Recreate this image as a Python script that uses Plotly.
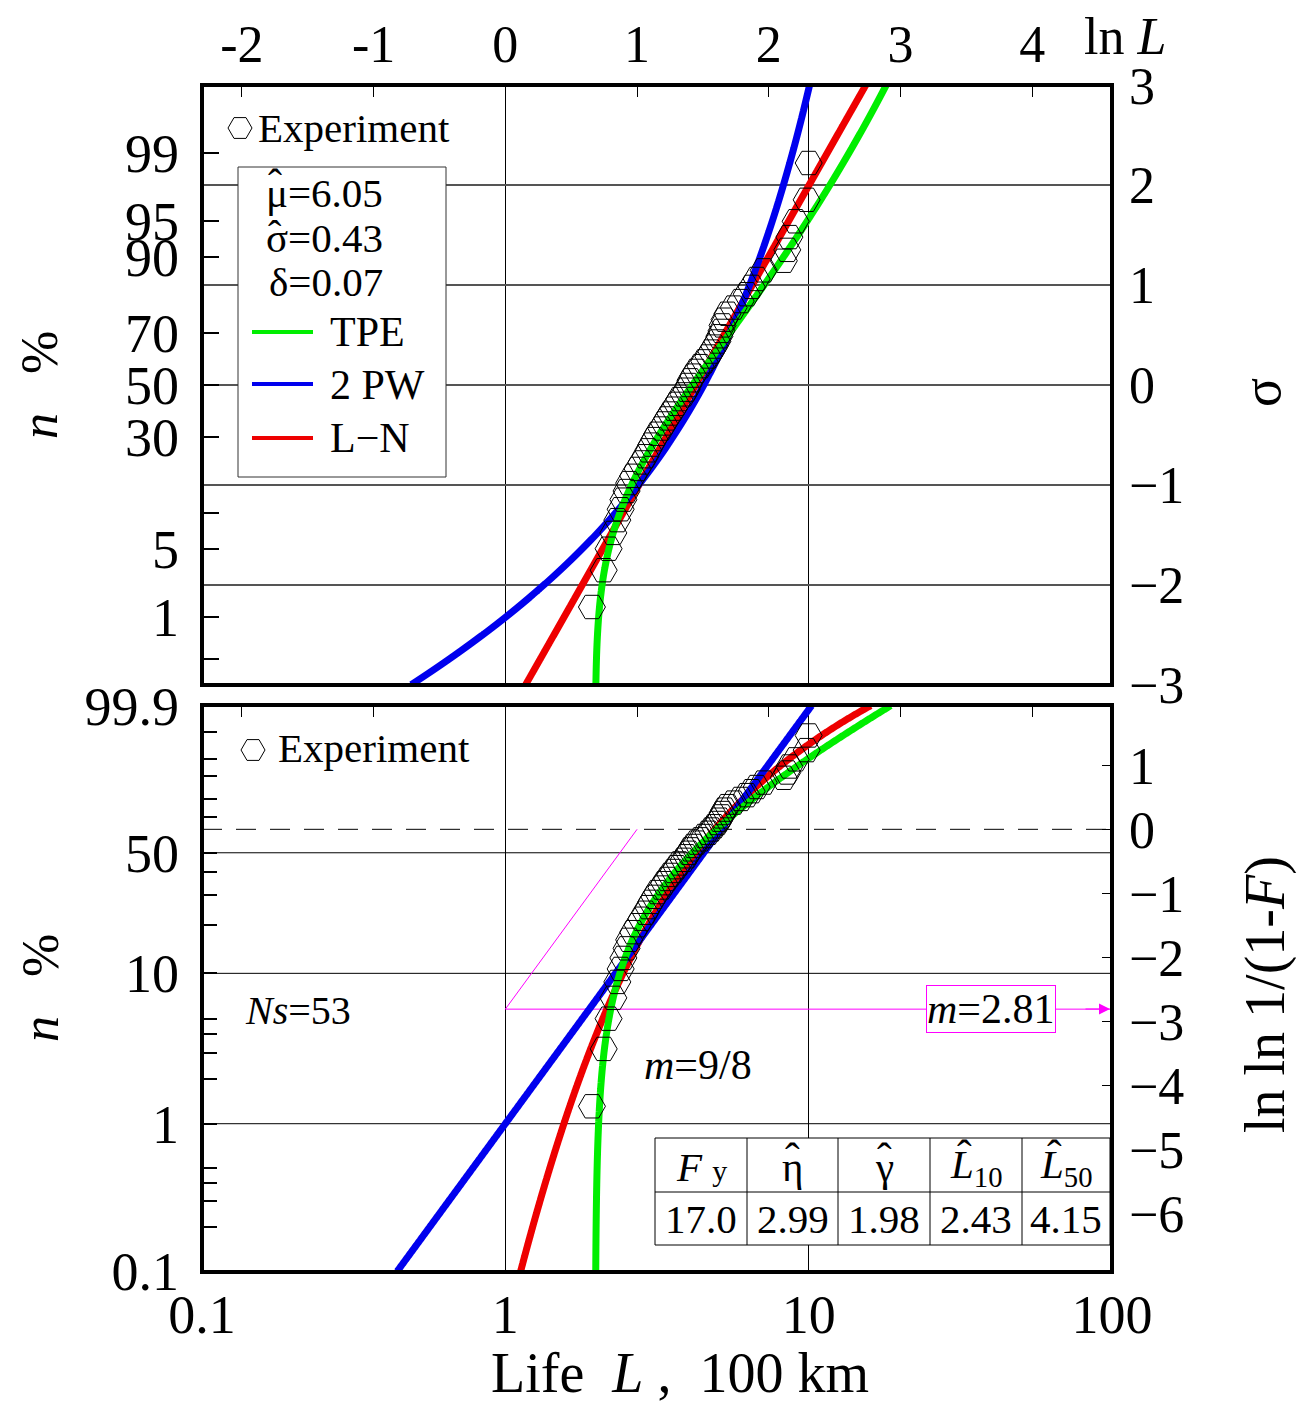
import math
from statistics import NormalDist
import numpy as np
import plotly.graph_objects as go

nd = NormalDist()

# ---------------- data ----------------
life = [1.93, 2.11, 2.19, 2.27, 2.34, 2.40, 2.45, 2.51, 2.56, 2.64,
        2.73, 2.81, 2.90, 2.96, 3.03, 3.10, 3.17, 3.27, 3.34, 3.42,
        3.50, 3.59, 3.67, 3.75, 3.87, 3.96, 4.02, 4.08, 4.17, 4.27,
        4.40, 4.53, 4.67, 4.78, 4.89, 5.00, 5.08, 5.16, 5.20, 5.28,
        5.40, 5.66, 5.97, 6.25, 6.49, 6.74, 7.11, 8.28, 8.50, 8.64,
        9.06, 9.85, 10.0]
N_S = 53

MU_HAT = 6.05      # ln(km)
SIGMA_HAT = 0.43
DELTA = 0.07
ETA_HAT = 2.99     # TPE scale (100 km)
GAMMA_HAT = 1.98   # TPE location (100 km)
M_TPE = 9 / 8
M_2PW = 2.81
ETA_2PW = 5.14
FY = 17.0
L10_HAT = 2.43
L50_HAT = 4.15

table_head = ["<i>F</i> <span style='font-size:30px'>y</span>", "η", "γ",
              "<i>L</i><sub>10</sub>", "<i>L</i><sub>50</sub>"]
table_vals = [FY, ETA_HAT, GAMMA_HAT, L10_HAT, L50_HAT]

top_pct_ticks = [99, 95, 90, 70, 50, 30, 10, 5, 1, 0.3]
top_pct_labels = ["99", "95", "90", "70", "50", "30", "", "5", "1", ""]
bot_pct_ticks = [99.9, 99, 95, 90, 80, 70, 50, 40, 30, 20, 10, 5, 4, 3, 2, 1, 0.5, 0.4, 0.3, 0.2, 0.1]
bot_pct_labels = ["99.9", "", "", "", "", "", "50", "", "", "", "10", "", "", "", "", "1", "", "", "", "", "0.1"]
sigma_ticks = [-3, -2, -1, 0, 1, 2, 3]
wb_ticks = [-6, -5, -4, -3, -2, -1, 0, 1]
lnL_ticks = [-2, -1, 0, 1, 2, 3, 4]
x_ticks = [0.1, 1, 10, 100]
x_labels = ["0.1", "1", "10", "100"]

FONT = "Liberation Serif"

# ---------------- transforms ----------------
def to_sigma(p):
    return nd.inv_cdf(p / 100.0)

def to_wb(p):
    return math.log(-math.log(1 - p / 100.0))

ranks = [(i - 0.3) / (N_S + 0.4) for i in range(1, N_S + 1)]
pt_sig = [nd.inv_cdf(f) for f in ranks]
pt_wb = [math.log(-math.log(1 - f)) for f in ranks]

# fitted model curves (from the printed parameters)
s_grid = np.linspace(-3.0, 3.0, 1201)
F_s = np.array([nd.cdf(s) for s in s_grid])
tpe_top = GAMMA_HAT + ETA_HAT * (-np.log(1 - F_s)) ** (1 / M_TPE)
pw_top = ETA_2PW * (-np.log(1 - F_s)) ** (1 / M_2PW)
ln_top = np.exp(MU_HAT - math.log(100) + SIGMA_HAT * s_grid)

WB_LO, WB_HI = to_wb(0.1), to_wb(99.9)
w_grid = np.linspace(WB_LO, WB_HI, 1201)
tpe_bot = GAMMA_HAT + ETA_HAT * np.exp(w_grid / M_TPE)
pw_bot = ETA_2PW * np.exp(w_grid / M_2PW)
F_w = 1 - np.exp(-np.exp(w_grid))
ln_bot = np.exp(MU_HAT - math.log(100) + SIGMA_HAT * np.array([nd.inv_cdf(f) for f in F_w]))

# ---------------- layout geometry ----------------
W, H = 1301, 1407
ML, MR, MT, MB = 202, 1301 - 1112, 85, 1407 - 1272
PW_, PH_ = W - ML - MR, H - MT - MB

def px(x):
    return (x - ML) / PW_

def py(y):
    return (H - MB - y) / PH_

top_dom = [py(685), 1.0]
bot_dom = [0.0, py(705)]

GREEN, BLUE, RED, MAG = "#00EE00", "#0000EE", "#EE0000", "#FF00FF"

fig = go.Figure()

def curve(xs, ys, col, xa, ya):
    fig.add_trace(go.Scatter(x=xs, y=ys, mode="lines", line=dict(color=col, width=7, simplify=False),
                             xaxis=xa, yaxis=ya, showlegend=False, hoverinfo="skip"))

# top panel curves
for xs, col in [(ln_top, RED), (pw_top, BLUE), (tpe_top, GREEN)]:
    curve(xs, s_grid, col, "x", "y")
fig.add_trace(go.Scatter(x=life, y=pt_sig, mode="markers",
                         marker=dict(symbol="hexagon2-open", size=27, color="black", line=dict(width=1)),
                         xaxis="x", yaxis="y", showlegend=False))

# bottom panel magenta construction
fig.add_trace(go.Scatter(x=[1, math.e], y=[-M_2PW, 0], mode="lines", line=dict(color=MAG, width=1),
                         xaxis="x2", yaxis="y2", showlegend=False, hoverinfo="skip"))
fig.add_trace(go.Scatter(x=[1, 100], y=[-M_2PW, -M_2PW], mode="lines", line=dict(color=MAG, width=1),
                         xaxis="x2", yaxis="y2", showlegend=False, hoverinfo="skip"))

# bottom panel curves
for xs, col in [(ln_bot, RED), (pw_bot, BLUE), (tpe_bot, GREEN)]:
    curve(xs, w_grid, col, "x2", "y2")
fig.add_trace(go.Scatter(x=life, y=pt_wb, mode="markers",
                         marker=dict(symbol="hexagon2-open", size=27, color="black", line=dict(width=1)),
                         xaxis="x2", yaxis="y2", showlegend=False))

# empty traces so the secondary (overlaying) axes are drawn
for xa, ya in [("x", "y3"), ("x3", "y"), ("x2", "y4"), ("x4", "y2")]:
    fig.add_trace(go.Scatter(x=[None], y=[None], mode="markers", xaxis=xa, yaxis=ya,
                             showlegend=False, hoverinfo="skip"))

tickfont = dict(family=FONT, size=54, color="black")
lnrange = [math.log(0.1), math.log(100)]
eps = 0.004

fig.update_layout(
    width=W, height=H, margin=dict(l=ML, r=MR, t=MT, b=MB),
    paper_bgcolor="white", plot_bgcolor="white",
    font=dict(family=FONT, color="black"),
    xaxis=dict(domain=[0, 1], anchor="y", type="log", range=[-1, 2], tickvals=x_ticks,
               showticklabels=False, ticks="", showgrid=True, gridcolor="black", gridwidth=1,
               zeroline=False, showline=False),
    yaxis=dict(domain=top_dom, anchor="x", range=[-3 - eps, 3 + eps],
               tickvals=[to_sigma(p) for p in top_pct_ticks], ticktext=top_pct_labels,
               ticks="inside", ticklen=17, tickcolor="black", tickwidth=1.5,
               tickfont=tickfont, ticklabelstandoff=22, showgrid=False, zeroline=False),
    yaxis3=dict(overlaying="y", anchor="x", side="right", range=[-3 - eps, 3 + eps],
                tickvals=sigma_ticks, ticktext=[str(v).replace("-", "−") for v in sigma_ticks],
                ticks="", tickfont=dict(family=FONT, size=52), ticklabelstandoff=16,
                showgrid=True, gridcolor="#555555", gridwidth=1.5, zeroline=False),
    xaxis3=dict(overlaying="x", anchor="y", side="top", range=lnrange, tickvals=lnL_ticks,
                ticktext=[str(v) for v in lnL_ticks], ticks="inside", ticklen=12, tickcolor="black",
                tickfont=dict(family=FONT, size=52), ticklabelstandoff=12,
                showgrid=False, zeroline=False),
    xaxis2=dict(domain=[0, 1], anchor="y2", type="log", range=[-1, 2], tickvals=x_ticks,
                ticktext=x_labels, ticks="", tickfont=tickfont, ticklabelstandoff=6,
                showgrid=True, gridcolor="black", gridwidth=1, zeroline=False),
    yaxis2=dict(domain=bot_dom, anchor="x2", range=[WB_LO - 0.01, WB_HI + 0.01],
                tickvals=[to_wb(p) for p in bot_pct_ticks], ticktext=bot_pct_labels,
                ticks="inside", ticklen=15, tickcolor="black", tickwidth=1.5,
                tickfont=tickfont, ticklabelstandoff=22, showgrid=False, zeroline=False),
    yaxis4=dict(overlaying="y2", anchor="x2", side="right", range=[WB_LO - 0.01, WB_HI + 0.01],
                tickvals=wb_ticks, ticktext=[str(v).replace("-", "−") for v in wb_ticks],
                ticks="inside", ticklen=10, tickcolor="black",
                tickfont=dict(family=FONT, size=52), ticklabelstandoff=16,
                showgrid=False, zeroline=False),
    xaxis4=dict(overlaying="x2", anchor="y2", side="top", range=lnrange, tickvals=lnL_ticks,
                showticklabels=False, ticks="inside", ticklen=12, tickcolor="black",
                showgrid=False, zeroline=False),
)

shapes = []
# bottom panel horizontal grid lines
for p in [50, 10, 1]:
    shapes.append(dict(type="line", xref="x2 domain", yref="y2", x0=0, x1=1, y0=to_wb(p), y1=to_wb(p),
                       line=dict(color="black", width=1), layer="below"))
shapes.append(dict(type="line", xref="x2 domain", yref="y2", x0=0, x1=1, y0=0, y1=0,
                   line=dict(color="black", width=1, dash="20px,14px"), layer="below"))
# legend box (top)
shapes.append(dict(type="rect", xref="paper", yref="paper", x0=px(238), x1=px(446), y0=py(477), y1=py(167),
                   fillcolor="white", line=dict(color="#333333", width=1), layer="above"))
for yy, col in [(332, GREEN), (384, BLUE), (438, RED)]:
    shapes.append(dict(type="line", xref="paper", yref="paper", x0=px(252), x1=px(313), y0=py(yy), y1=py(yy),
                       line=dict(color=col, width=4), layer="above"))
# legend hexagons
hexpath = "M12,0 L6,10.4 L-6,10.4 L-12,0 L-6,-10.4 L6,-10.4 Z"
for (hx, hy) in [(240, 128), (253, 750)]:
    shapes.append(dict(type="path", xref="paper", yref="paper", xsizemode="pixel", ysizemode="pixel",
                       xanchor=px(hx), yanchor=py(hy), path=hexpath,
                       line=dict(color="black", width=1), layer="above"))
# table
TX0, TX1, TY0, TY1, TYM = 655, 1110, 1138, 1245, 1192
shapes.append(dict(type="rect", xref="paper", yref="paper", x0=px(TX0), x1=px(TX1), y0=py(TY1), y1=py(TY0),
                   fillcolor="white", line=dict(color="black", width=1), layer="above"))
shapes.append(dict(type="line", xref="paper", yref="paper", x0=px(TX0), x1=px(TX1), y0=py(TYM), y1=py(TYM),
                   line=dict(color="black", width=1), layer="above"))
col_edges = [655, 747, 838, 930, 1022, 1110]
for cx in col_edges[1:-1]:
    shapes.append(dict(type="line", xref="paper", yref="paper", x0=px(cx), x1=px(cx), y0=py(TY1), y1=py(TY0),
                       line=dict(color="black", width=1), layer="above"))
# frames
for xr, yr in [("x domain", "y domain"), ("x2 domain", "y2 domain")]:
    shapes.append(dict(type="rect", xref=xr, yref=yr, x0=0, x1=1, y0=0, y1=1,
                       line=dict(color="black", width=4), layer="above"))

ann = []
def text(x, y, t, size=40, xanchor="center", yanchor="middle", angle=0, **kw):
    d = dict(xref="paper", yref="paper", x=px(x), y=py(y), text=t, showarrow=False,
             xanchor=xanchor, yanchor=yanchor, textangle=angle,
             font=dict(family=FONT, size=size, color="black"))
    d.update(kw)
    ann.append(d)

HAT = "ˆ"
text(256, 128, "Experiment", 41, xanchor="left")
text(264, 193, f"μ={MU_HAT:.2f}", 41, xanchor="left")
text(275, 184, HAT, 42)
text(264, 238, f"σ={SIGMA_HAT:.2f}", 41, xanchor="left")
text(275, 234, HAT, 40)
text(267, 282, f"δ={DELTA:.2f}", 41, xanchor="left")
text(328, 332, "TPE", 42, xanchor="left")
text(328, 385, "2 PW", 42, xanchor="left")
text(328, 438, "L−N", 42, xanchor="left")
text(276, 748, "Experiment", 41, xanchor="left")
text(298, 1010, f"<i>Ns</i>={N_S}", 40)
text(698, 1065, "<i>m</i>=9/8", 42)
text(991, 1009, f"<i>m</i>={M_2PW:.2f}", 42, bordercolor=MAG, borderwidth=1, borderpad=0, bgcolor="white")
# table text
for k in range(5):
    cx = (col_edges[k] + col_edges[k + 1]) / 2
    text(cx, 1167, table_head[k], 41)
    text(cx, 1219, f"{table_vals[k]:.2f}" if k else f"{table_vals[k]:.1f}", 41)
for hx in [792, 884]:
    text(hx, 1158, HAT, 44)
for hx in [964, 1054]:
    text(hx, 1155, HAT, 44)
# axis titles
text(40, 385, "<i>n</i>&nbsp;&nbsp;&nbsp;%", 52, angle=-90)
text(40, 988, "<i>n</i>&nbsp;&nbsp;&nbsp;%", 52, angle=-90)
text(1262, 393, "σ", 54, angle=-90)
text(1265, 995, "ln ln 1/(1-<i>F</i>)", 56, angle=-90)
text(680, 1373, "Life&nbsp;&nbsp;<i>L</i> ,&nbsp;&nbsp;100 km", 56)
text(1125, 36, "ln <i>L</i>", 52)
# arrow head
ann.append(dict(xref="paper", yref="paper", x=px(1110), y=py(1009), ax=-26, ay=0, text="",
                showarrow=True, arrowhead=2, arrowsize=2.2, arrowwidth=1, arrowcolor=MAG))

fig.update_layout(shapes=shapes, annotations=ann)
fig.write_html("out.html")
